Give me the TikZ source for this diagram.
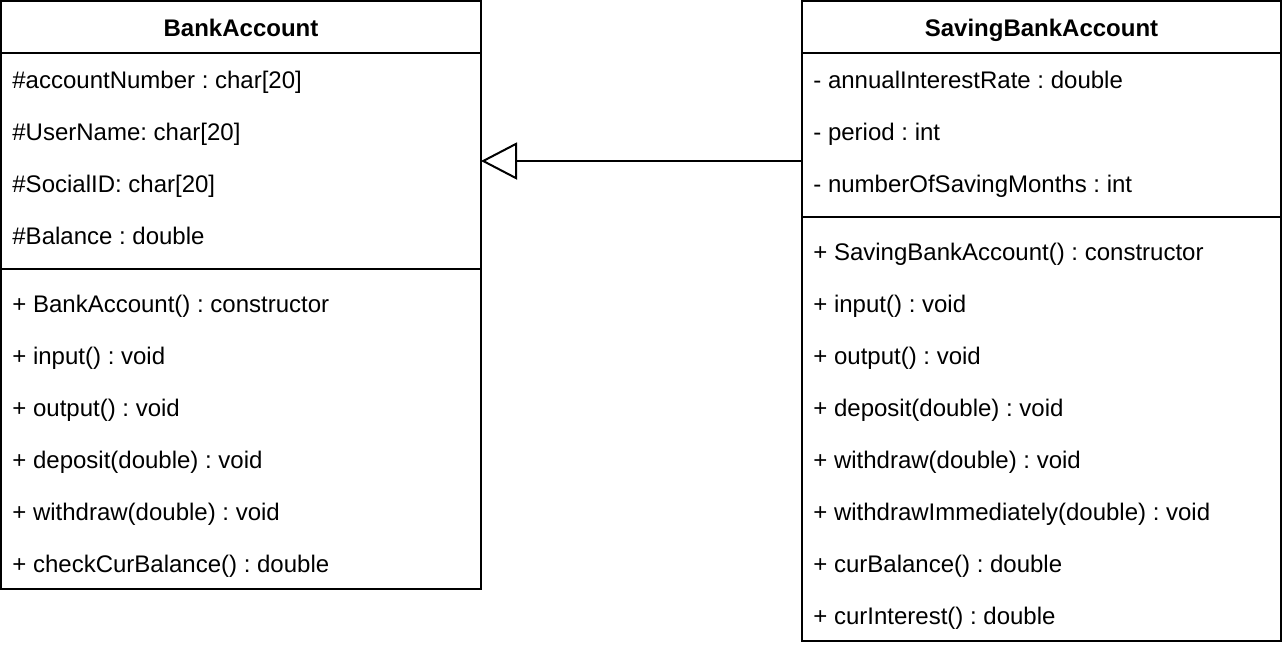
\documentclass[tikz,border=0pt]{standalone}
\usepackage{fontspec}
\setmainfont{Liberation Sans}
\usetikzlibrary{arrows.meta}
\begin{document}
\frenchspacing
\begin{tikzpicture}[x=1pt,y=-1pt,
  classbox/.style={draw, line width=1pt, inner sep=0pt, outer sep=0pt, anchor=north west},
  sep/.style={line width=1pt},
  title/.style={font=\fontsize{12pt}{14pt}\selectfont\bfseries, anchor=base, inner sep=0pt},
  row/.style={font=\fontsize{12pt}{14pt}\selectfont, anchor=base west, inner sep=0pt},
  inherit/.style={line width=1pt, -{Triangle[open, length=18pt, width=18.5pt, line width=1pt]}}
]
\useasboundingbox (0,0) rectangle (641,324);
% BankAccount
\node[classbox, minimum width=240pt, minimum height=294pt] (ba) at (0.5,0.5) {};
\draw[sep] (0.5,26.5) -- (240.5,26.5);
\draw[sep] (0.5,134.5) -- (240.5,134.5);
\node[title] (baT) at (120.5,18) {BankAccount};
\node[row] (ba1) at (6,44.3) {\#accountNumber : char[20]};
\node[row] (ba2) at (6,70.3) {\#UserName: char[20]};
\node[row] (ba3) at (6,96.3) {\#SocialID: char[20]};
\node[row] (ba4) at (6,122.3) {\#Balance : double};
\node[row] (bm1) at (6,156.3) {+ BankAccount() : constructor};
\node[row] (bm2) at (6,182.3) {+ input() : void};
\node[row] (bm3) at (6,208.3) {+ output() : void};
\node[row] (bm4) at (6,234.3) {+ deposit(double) : void};
\node[row] (bm5) at (6,260.3) {+ withdraw(double) : void};
\node[row] (bm6) at (6,286.3) {+ checkCurBalance() : double};
% SavingBankAccount
\node[classbox, minimum width=239.5pt, minimum height=320pt] (sba) at (401,0.5) {};
\draw[sep] (401,26.5) -- (640.5,26.5);
\draw[sep] (401,108.5) -- (640.5,108.5);
\node[title] (sbaT) at (520.75,18) {SavingBankAccount};
\node[row] (sa1) at (406.5,44.3) {- annualInterestRate : double};
\node[row] (sa2) at (406.5,70.3) {- period : int};
\node[row] (sa3) at (406.5,96.3) {- numberOfSavingMonths : int};
\node[row] (sm1) at (406.5,130.3) {+ SavingBankAccount() : constructor};
\node[row] (sm2) at (406.5,156.3) {+ input() : void};
\node[row] (sm3) at (406.5,182.3) {+ output() : void};
\node[row] (sm4) at (406.5,208.3) {+ deposit(double) : void};
\node[row] (sm5) at (406.5,234.3) {+ withdraw(double) : void};
\node[row] (sm6) at (406.5,260.3) {+ withdrawImmediately(double) : void};
\node[row] (sm7) at (406.5,286.3) {+ curBalance() : double};
\node[row] (sm8) at (406.5,312.3) {+ curInterest() : double};
% inheritance
\draw[inherit] (sba.west |- 0,80.5) -- (ba.east |- 0,80.5);
\end{tikzpicture}
\end{document}
